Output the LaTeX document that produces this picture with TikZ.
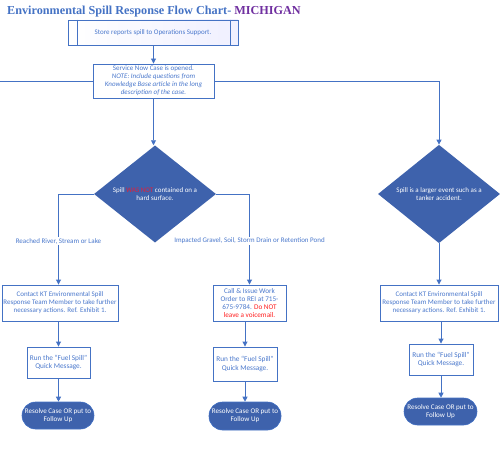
\documentclass[tikz,border=0pt]{standalone}
\usepackage{fontspec}
\setmainfont{Carlito}
\newfontfamily\titlefont{Liberation Serif}
\usetikzlibrary{shapes.geometric,arrows.meta}
\definecolor{lnblue}{HTML}{4472C4}
\definecolor{txblue}{HTML}{4A78CC}
\definecolor{dkblue}{HTML}{3E62AC}
\definecolor{wasnot}{HTML}{E0203A}
\definecolor{donot}{HTML}{FF2020}
\definecolor{purp}{HTML}{7030A0}
\begin{document}
\begin{tikzpicture}[x=1pt,y=-1pt,
  conn/.style={draw=lnblue, line width=0.9pt},
  arr/.style={conn, -{Triangle[length=5pt,width=5pt]}},
  procbox/.style={draw=lnblue, line width=0.9pt, fill=white, text=txblue,
    font=\fontsize{7}{8}\selectfont, align=center, inner sep=0pt},
  decision/.style={diamond, fill=dkblue, text=white, inner sep=0pt,
    font=\fontsize{7}{8}\selectfont, align=center,
    minimum width=122pt, minimum height=92pt},
  term/.style={rectangle, rounded corners=13.5pt, fill=dkblue, draw=lnblue,
    line width=0.6pt, text=white, font=\fontsize{7.1}{8.2}\selectfont,
    align=center, inner sep=0pt},
  lbl/.style={fill=white, text=txblue, font=\fontsize{7}{8}\selectfont,
    inner sep=1pt}
]
\useasboundingbox (0,0) rectangle (500,452);

\node[text=lnblue, font=\titlefont\bfseries\fontsize{12.2}{14}\selectfont]
  (title) at (154,12) {Environmental Spill Response Flow Chart- \textcolor{purp}{MICHIGAN}};

\node[procbox, left color=white, right color=blue!6, minimum width=170pt,
  minimum height=25pt] (store) at (153,32.5)
  {Store reports spill to Operations Support.};
\draw[conn] ([xshift=10pt]store.north west) -- ([xshift=10pt]store.south west);
\draw[conn] ([xshift=-8pt]store.north east) -- ([xshift=-8pt]store.south east);

\node[procbox, minimum width=121pt, minimum height=34pt] (svc) at (153.5,81)
  {Service Now Case is opened.\\ \itshape NOTE: Include questions from\\
   \itshape Knowledge Base article in the long\\ \itshape description of the case.};
\coordinate (edgeL) at (0,81);

\node[decision] (d1) at (155,194)
  {Spill \textcolor{wasnot}{WAS NOT} contained on a\\ hard surface.};
\node[decision] (d2) at (439,194)
  {Spill is a larger event such as a\\ tanker accident.};

\node[procbox, minimum width=116pt, minimum height=36pt] (box3) at (60,303)
  {Contact KT Environmental Spill\\ Response Team Member to take further\\ necessary actions. Ref. Exhibit 1.};
\node[procbox, minimum width=73pt, minimum height=36pt, font=\fontsize{7.2}{8.2}\selectfont] (box4) at (249.5,303)
  {Call \& Issue Work\\ Order to REI at 715-\\ 675-9784. \textcolor{donot}{Do NOT}\\ \textcolor{donot}{leave a voicemail.}};
\node[procbox, minimum width=118pt, minimum height=36pt] (box5) at (439,303)
  {Contact KT Environmental Spill\\ Response Team Member to take further\\ necessary actions. Ref. Exhibit 1.};

\node[procbox, minimum width=63pt, minimum height=31pt, font=\fontsize{7.3}{8.4}\selectfont] (run1) at (58.5,362.5)
  {Run the “Fuel Spill”\\ Quick Message.};
\node[procbox, minimum width=64pt, minimum height=34pt, font=\fontsize{7.3}{8.4}\selectfont] (run2) at (245,364)
  {Run the “Fuel Spill”\\ Quick Message.};
\node[procbox, minimum width=64pt, minimum height=31pt, font=\fontsize{7.3}{8.4}\selectfont] (run3) at (441,359.5)
  {Run the “Fuel Spill”\\ Quick Message.};

\node[term, minimum width=72pt, minimum height=27pt] (t1) at (58,415.5)
  {Resolve Case OR put to\\ Follow Up};
\node[term, minimum width=72pt, minimum height=28pt] (t2) at (245,416)
  {Resolve Case OR put to\\ Follow Up};
\node[term, minimum width=73pt, minimum height=27pt] (t3) at (440.5,411.5)
  {Resolve Case OR put to\\ Follow Up};

\draw[arr] (store.south -| svc.north) -- (svc.north);
\draw[arr] (svc.south) -- (svc.south |- d1.north);
\draw[conn] (svc.west) -- (edgeL);
\draw[arr] (svc.east) -| (d2.north);
\draw[arr] (d1.west) -| node[lbl, pos=0.76] {Reached River, Stream or Lake} (box3.north -| run1.north);
\draw[arr] (d1.east) -| node[lbl, pos=0.76] {Impacted Gravel, Soil, Storm Drain or Retention Pond} (box4.north);
\draw[arr] (d2.south) -- (d2.south |- box5.north);
\draw[arr] (box3.south -| run1.north) -- (run1.north);
\draw[arr] (box4.south -| run2.north) -- (run2.north);
\draw[arr] (box5.south -| run3.north) -- (run3.north);
\draw[arr] (run1.south) -- (run1.south |- t1.north);
\draw[arr] (run2.south) -- (run2.south |- t2.north);
\draw[arr] (run3.south) -- (run3.south |- t3.north);
\end{tikzpicture}
\end{document}
